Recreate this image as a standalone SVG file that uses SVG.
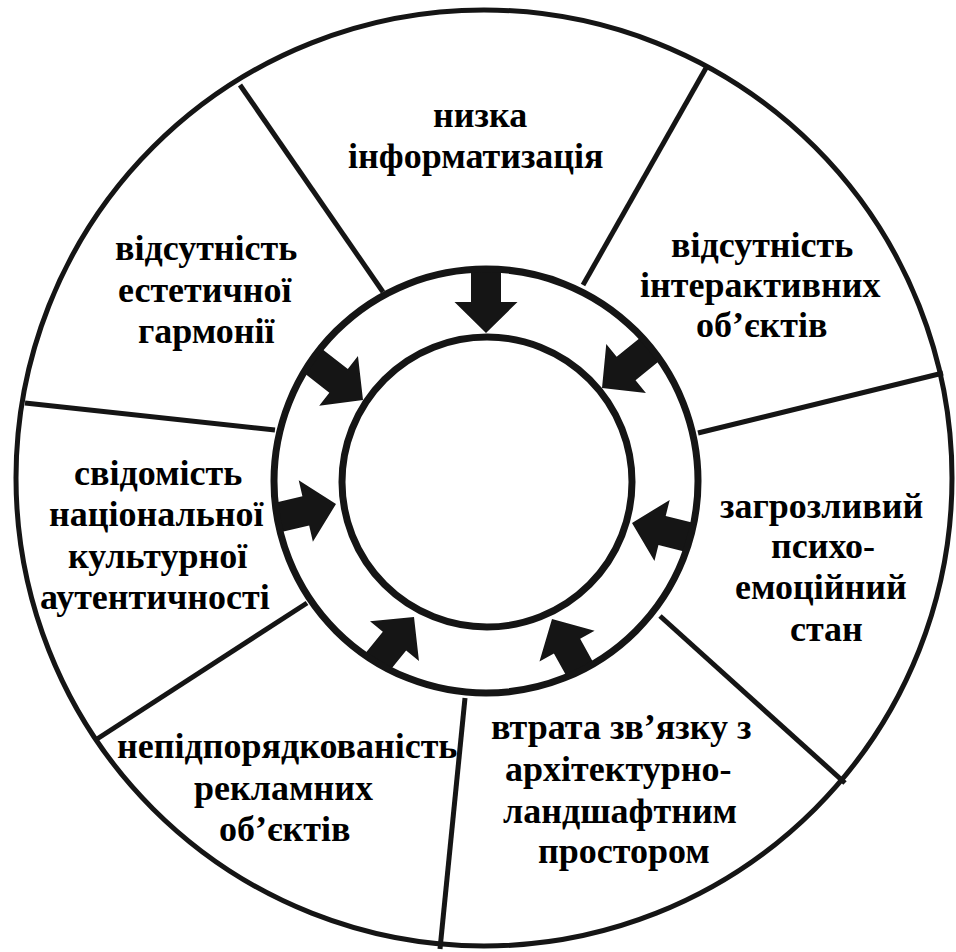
<svg xmlns="http://www.w3.org/2000/svg" width="956" height="952" viewBox="0 0 956 952">
<defs>
<path id="arrow" d="M0,0 L-31,-31.5 L-31,-15 L-80,-15 L-80,15 L-31,15 L-31,31.5 Z" fill="#151515"/>
<clipPath id="ringclip"><circle cx="486" cy="481" r="212"/></clipPath>
</defs>
<rect width="956" height="952" fill="#ffffff"/>
<g id="outer"><circle cx="484" cy="478" r="468" fill="#ffffff" stroke="#151515" stroke-width="5"/></g>
<g id="connectors" stroke="#151515" stroke-width="5" fill="none">
<line x1="240" y1="85" x2="383" y2="292"/>
<line x1="706" y1="68" x2="583" y2="285"/>
<line x1="943" y1="373" x2="698" y2="433"/>
<line x1="660" y1="616" x2="845" y2="783"/>
<line x1="465" y1="698" x2="440" y2="949"/>
<line x1="307" y1="603" x2="97" y2="739"/>
<line x1="25" y1="403" x2="275" y2="430"/>
</g>
<g id="arrows">
<circle cx="486" cy="481" r="212" fill="#ffffff"/>
<g clip-path="url(#ringclip)">
<use href="#arrow" transform="translate(486,333) rotate(90)"/>
<use href="#arrow" transform="translate(602,388) rotate(141)"/>
<use href="#arrow" transform="translate(363,400) rotate(38)"/>
<use href="#arrow" transform="translate(336,504) rotate(-13)"/>
<use href="#arrow" transform="translate(632,523) rotate(194)"/>
<use href="#arrow" transform="translate(414,617) rotate(-51)"/>
<use href="#arrow" transform="translate(552,619) rotate(-119)"/>
</g>
</g>
<g id="middle"><circle cx="486" cy="481" r="212" fill="none" stroke="#151515" stroke-width="7"/></g>
<g id="center"><circle cx="487" cy="482" r="145" fill="#ffffff" stroke="#151515" stroke-width="7"/></g>
<g id="n1"><text x="433" y="127" font-family="Liberation Serif" font-weight="bold" font-size="36">низка</text><text x="348" y="168" font-family="Liberation Serif" font-weight="bold" font-size="36">інформатизація</text></g>
<g id="n2"><text x="671" y="257" font-family="Liberation Serif" font-weight="bold" font-size="36">відсутність</text><text x="640" y="297" font-family="Liberation Serif" font-weight="bold" font-size="36">інтерактивних</text><text x="696" y="337" font-family="Liberation Serif" font-weight="bold" font-size="36">об’єктів</text></g>
<g id="n3"><text x="720" y="518" font-family="Liberation Serif" font-weight="bold" font-size="36">загрозливий</text><text x="771" y="558" font-family="Liberation Serif" font-weight="bold" font-size="36">психо-</text><text x="735" y="599" font-family="Liberation Serif" font-weight="bold" font-size="36">емоційний</text><text x="790" y="641" font-family="Liberation Serif" font-weight="bold" font-size="36">стан</text></g>
<g id="n4"><text x="491" y="739" font-family="Liberation Serif" font-weight="bold" font-size="36">втрата зв’язку з</text><text x="505" y="781" font-family="Liberation Serif" font-weight="bold" font-size="36">архітектурно-</text><text x="503" y="823" font-family="Liberation Serif" font-weight="bold" font-size="36">ландшафтним</text><text x="538" y="863" font-family="Liberation Serif" font-weight="bold" font-size="36">простором</text></g>
<g id="n5"><text x="117" y="758" font-family="Liberation Serif" font-weight="bold" font-size="36">непідпорядкованість</text><text x="194" y="800" font-family="Liberation Serif" font-weight="bold" font-size="36">рекламних</text><text x="219" y="841" font-family="Liberation Serif" font-weight="bold" font-size="36">об’єктів</text></g>
<g id="n6"><text x="74" y="485" font-family="Liberation Serif" font-weight="bold" font-size="36">свідомість</text><text x="49" y="526" font-family="Liberation Serif" font-weight="bold" font-size="36">національної</text><text x="68" y="568" font-family="Liberation Serif" font-weight="bold" font-size="36">культурної</text><text x="40" y="609" font-family="Liberation Serif" font-weight="bold" font-size="36">аутентичності</text></g>
<g id="n7"><text x="115" y="260" font-family="Liberation Serif" font-weight="bold" font-size="36">відсутність</text><text x="118" y="302" font-family="Liberation Serif" font-weight="bold" font-size="36">естетичної</text><text x="138" y="343" font-family="Liberation Serif" font-weight="bold" font-size="36">гармонії</text></g>
</svg>
